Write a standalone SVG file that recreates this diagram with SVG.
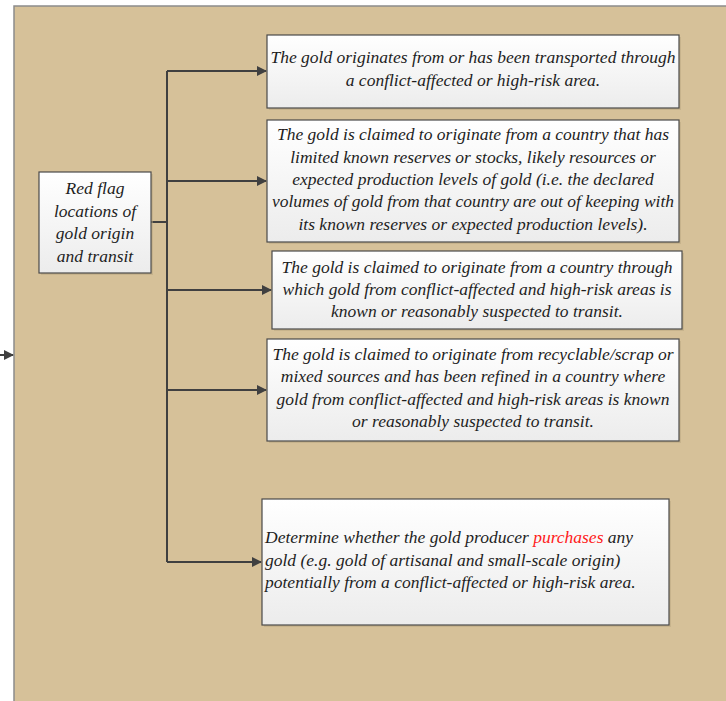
<svg xmlns="http://www.w3.org/2000/svg" width="726" height="701" viewBox="0 0 726 701">
<style>
.t{font-family:"Liberation Serif","Times New Roman",serif;font-style:italic;font-size:17.5px;fill:#1e1e1e}
.c{text-anchor:middle}
.box{stroke:#4a4a4a;stroke-width:1.2;fill:url(#g)}
.sh{fill:#b8a57f;opacity:0.5}
.ln{stroke:#404040;stroke-width:2;fill:none}
</style>
<defs>
<linearGradient id="g" x1="0" y1="0" x2="0" y2="1">
<stop offset="0" stop-color="#ffffff"/>
<stop offset="1" stop-color="#ececec"/>
</linearGradient>
<marker id="a" markerWidth="10" markerHeight="10" refX="9" refY="5" orient="auto" markerUnits="userSpaceOnUse">
<path d="M0,0 L10,5 L0,10 z" fill="#404040"/>
</marker>
</defs>
<rect x="14" y="6" width="720" height="700" fill="#d6c199" stroke="#8c8c8c" stroke-width="1.5"/>
<g id="connectors">
<line class="ln" x1="0" y1="355" x2="13" y2="355" marker-end="url(#a)"/>
<polyline class="ln" points="151,222 167,222"/>
<line class="ln" x1="167" y1="71" x2="167" y2="562"/>
<line class="ln" x1="167" y1="71" x2="266" y2="71" marker-end="url(#a)"/>
<line class="ln" x1="167" y1="181" x2="266" y2="181" marker-end="url(#a)"/>
<line class="ln" x1="167" y1="290" x2="271" y2="290" marker-end="url(#a)"/>
<line class="ln" x1="167" y1="390" x2="266" y2="390" marker-end="url(#a)"/>
<line class="ln" x1="167" y1="562" x2="261" y2="562" marker-end="url(#a)"/>
</g>
<g id="root">
<rect class="sh" x="41" y="174" width="112" height="101"/>
<rect class="box" x="39" y="172" width="112" height="101"/>
<text class="t c" x="95" y="194">Red flag</text>
<text class="t c" x="95" y="217">locations of</text>
<text class="t c" x="95" y="239">gold origin</text>
<text class="t c" x="95" y="262">and transit</text>
</g>
<g id="n1">
<rect class="sh" x="269" y="37" width="412" height="73"/>
<rect class="box" x="267" y="35" width="412" height="73"/>
<text class="t c" x="473" y="63">The gold originates from or has been transported through</text>
<text class="t c" x="473" y="86">a conflict-affected or high-risk area.</text>
</g>
<g id="n2">
<rect class="sh" x="269" y="122" width="412" height="122"/>
<rect class="box" x="267" y="120" width="412" height="122"/>
<text class="t c" x="473" y="140">The gold is claimed to originate from a country that has</text>
<text class="t c" x="473" y="163">limited known reserves or stocks, likely resources or</text>
<text class="t c" x="473" y="185">expected production levels of gold (i.e. the declared</text>
<text class="t c" x="473" y="207">volumes of gold from that country are out of keeping with</text>
<text class="t c" x="473" y="230">its known reserves or expected production levels).</text>
</g>
<g id="n3">
<rect class="sh" x="274" y="253" width="410" height="78"/>
<rect class="box" x="272" y="251" width="410" height="78"/>
<text class="t c" x="477" y="273">The gold is claimed to originate from a country through</text>
<text class="t c" x="477" y="295">which gold from conflict-affected and high-risk areas is</text>
<text class="t c" x="477" y="317">known or reasonably suspected to transit.</text>
</g>
<g id="n4">
<rect class="sh" x="269" y="341" width="412" height="102"/>
<rect class="box" x="267" y="339" width="412" height="102"/>
<text class="t c" x="473" y="360">The gold is claimed to originate from recyclable/scrap or</text>
<text class="t c" x="473" y="382">mixed sources and has been refined in a country where</text>
<text class="t c" x="473" y="405">gold from conflict-affected and high-risk areas is known</text>
<text class="t c" x="473" y="427">or reasonably suspected to transit.</text>
</g>
<g id="n5">
<rect class="sh" x="264" y="501" width="407" height="126"/>
<rect class="box" x="262" y="499" width="407" height="126"/>
<text class="t" x="265" y="543">Determine whether the gold producer <tspan fill="#ff1a1a">purchases</tspan> any</text>
<text class="t" x="265" y="566">gold (e.g. gold of artisanal and small-scale origin)</text>
<text class="t" x="265" y="588">potentially from a conflict-affected or high-risk area.</text>
</g>
</svg>
